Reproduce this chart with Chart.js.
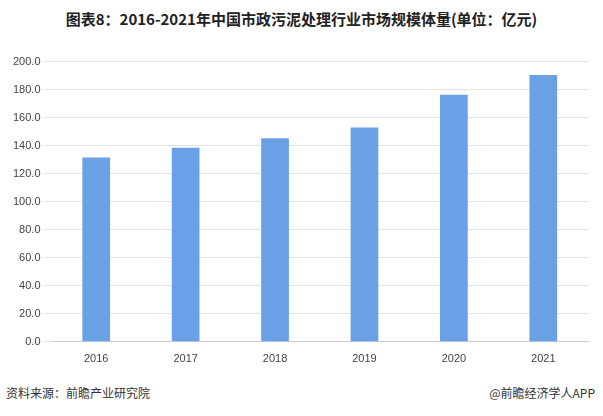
<!DOCTYPE html>
<html>
<head>
<meta charset="utf-8">
<script src="https://cdn.jsdelivr.net/npm/chart.js@4"></script>
<style>
  body { margin: 0; width: 603px; height: 416px; background: #fff; font-family: "Noto Sans CJK SC", sans-serif; position: relative; overflow: hidden; }
  #title { position: absolute; top: 8px; left: 0; width: 603px; text-align: center; font-size: 15px; font-weight: bold; color: #222; }
  #wrap { position: absolute; left: 0; top: 52px; width: 600px; height: 317px; }
  .foot { position: absolute; top: 384px; font-size: 12px; color: #333; }
</style>
</head>
<body>
<div id="title">图表8：2016-2021年中国市政污泥处理行业市场规模体量(单位：亿元)</div>
<div id="wrap"><canvas id="chart"></canvas></div>
<div class="foot" style="left:6px">资料来源：前瞻产业研究院</div>
<div class="foot" style="right:8px">@前瞻经济学人APP</div>
<script>
const years = ["2016", "2017", "2018", "2019", "2020", "2021"];
const marketSize = [131.5, 138.5, 145.2, 153, 176.3, 190.5];

new Chart(document.getElementById("chart").getContext("2d"), {
  type: "bar",
  data: {
    labels: years,
    datasets: [{
      data: marketSize,
      backgroundColor: "#6aa0e6",
      categoryPercentage: 1,
      barPercentage: 0.31,
    }],
  },
  options: {
    responsive: true,
    maintainAspectRatio: false,
    animation: false,
    layout: { padding: { left: 10, right: 12, top: 6 } },
    plugins: { legend: { display: false }, tooltip: { enabled: false } },
    scales: {
      y: {
        min: 0, max: 200,
        ticks: { stepSize: 20, callback: (v) => v.toFixed(1), color: "#444", font: { size: 11 } },
        grid: { color: "#e3e3e3" },
        border: { display: false },
      },
      x: {
        ticks: { color: "#444", font: { size: 11 } },
        grid: { display: false },
        border: { color: "#ccc" },
      },
    },
  },
});
</script>
</body>
</html>
